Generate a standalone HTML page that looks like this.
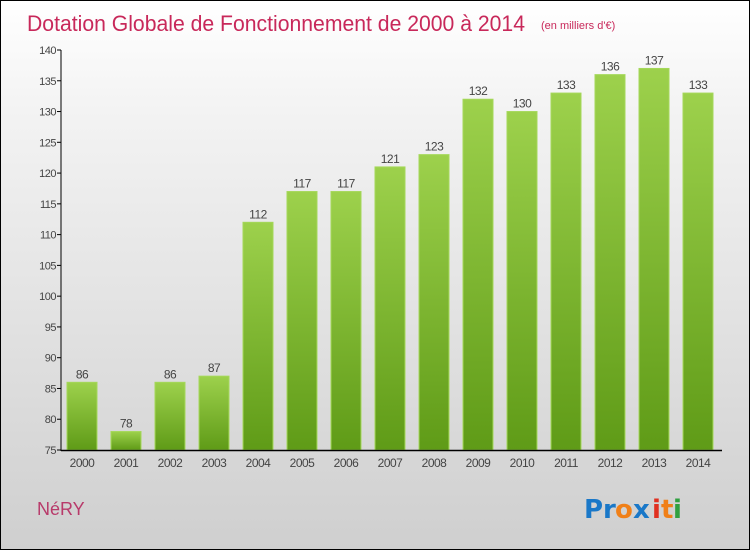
<!DOCTYPE html>
<html><head><meta charset="utf-8"><style>
body{margin:0}
#wrap{position:relative;width:748px;height:548px;border:1px solid #000;background:linear-gradient(#ffffff,#f3f3f3 20%,#cfcfcf);font-family:"Liberation Sans",sans-serif;overflow:hidden}
</style></head><body>
<div id="wrap">
<svg id="chart" width="748" height="548">
<defs><linearGradient id="g" x1="0" y1="0" x2="0" y2="1"><stop offset="0" stop-color="#9dd14c"/><stop offset="1" stop-color="#5f9b17"/></linearGradient></defs>
<text x="26" y="30" font-size="22" fill="#c8285a" textLength="498" lengthAdjust="spacingAndGlyphs">Dotation Globale de Fonctionnement de 2000 à 2014</text>
<text x="540" y="28" font-size="11" fill="#c8285a">(en milliers d'€)</text>
<text x="36" y="514" font-size="18" fill="#b83a6a">NéRY</text>
<g font-size="26" font-weight="bold" font-family="DejaVu Sans,sans-serif">
<text x="583" y="517" fill="#1a78c8">P</text><text x="602" y="517" fill="#1a78c8">r</text><text x="614" y="517" fill="#f08018">o</text><text x="632" y="517" fill="#1a78c8">x</text><text x="651" y="517" fill="#e03020">i</text><text x="660" y="517" fill="#f08018">t</text><text x="672" y="517" fill="#30a040">i</text>
</g>
<g id="plot"></g>
</svg>
</div>
<script>
const years=["2000","2001","2002","2003","2004","2005","2006","2007","2008","2009","2010","2011","2012","2013","2014"];
const values=[86,78,86,87,112,117,117,121,123,132,130,133,136,137,133];
const yTicks=[75,80,85,90,95,100,105,110,115,120,125,130,135,140];
const NS="http://www.w3.org/2000/svg";
const g=document.getElementById('plot');
const y0=449,y1=49,vmin=75,vmax=140;
const yS=v=>y0-(v-vmin)/(vmax-vmin)*(y0-y1);
const xS=i=>81+i*44;
function el(t,a){const e=document.createElementNS(NS,t);for(const k in a)e.setAttribute(k,a[k]);g.appendChild(e);return e;}
yTicks.forEach(t=>{
 const l=el('line',{x1:56,x2:60,y1:yS(t),y2:yS(t),stroke:'#000'});
 
 
 const tx=el('text',{x:55,y:yS(t)+4,'font-size':11,'text-anchor':'end',fill:'#444','letter-spacing':'-0.5'});
 tx.textContent=t;
 
 
});
values.forEach((v,i)=>{
 const r=el('rect',{x:xS(i)-15,y:yS(v),width:30,height:y0-yS(v),fill:'url(#g)',stroke:'#a5d85a','stroke-width':1});
 
 
 const vl=el('text',{x:xS(i),y:yS(v)-4,'font-size':12,'text-anchor':'middle',fill:'#444','letter-spacing':'-0.5'});
 vl.textContent=v;
 
 
 const xl=el('text',{x:xS(i),y:466,'font-size':12,'text-anchor':'middle',fill:'#444','letter-spacing':'-0.5'});
 xl.textContent=years[i];
 
 
});
const ya=el('line',{x1:60,x2:60,y1:y1,y2:y0+1,stroke:'#000','stroke-width':1});


const xa=el('line',{x1:60,x2:721,y1:y0+0.5,y2:y0+0.5,stroke:'#000','stroke-width':1.5});


</script>
</body></html>
